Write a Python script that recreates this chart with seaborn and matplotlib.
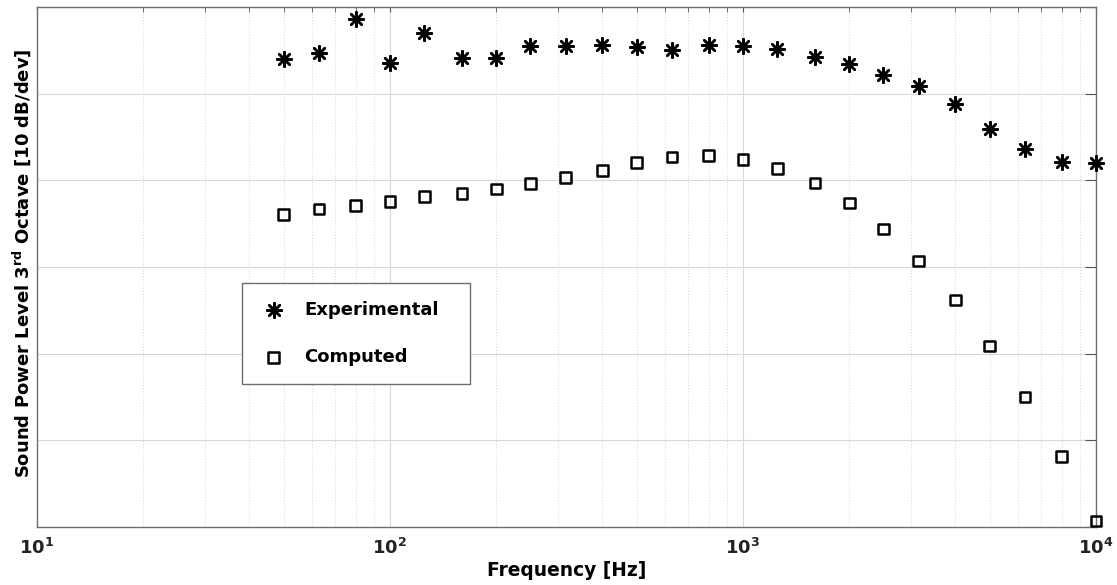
import numpy as np
import pandas as pd
import matplotlib
matplotlib.use('Agg')
import matplotlib.pyplot as plt
import matplotlib.ticker as mticker
import seaborn as sns

# Third-octave band centre frequencies [Hz]
freq = [50, 63, 80, 100, 125, 160, 200, 250, 315, 400, 500, 630, 800,
        1000, 1250, 1600, 2000, 2500, 3150, 4000, 5000, 6300, 8000, 10000]
# Sound power level [dB], relative (10 dB per division)
experimental = [54.0, 54.7, 58.6, 53.5, 57.0, 54.1, 54.1, 55.5, 55.5, 55.6, 55.4, 55.0,
                55.6, 55.5, 55.1, 54.2, 53.4, 52.1, 50.9, 48.8, 45.9, 43.6, 42.1, 42.0]
computed = [36.1, 36.7, 37.1, 37.6, 38.1, 38.5, 39.0, 39.6, 40.3, 41.1, 42.1, 42.7,
            42.9, 42.4, 41.4, 39.7, 37.4, 34.4, 30.7, 26.2, 20.9, 15.0, 8.1, 0.7]
x_ticks = [10, 100, 1000, 10000]
x_tick_labels = [r'$\mathbf{10^{1}}$', r'$\mathbf{10^{2}}$', r'$\mathbf{10^{3}}$', r'$\mathbf{10^{4}}$']
y_ticks = [0, 10, 20, 30, 40, 50, 60]

df = pd.DataFrame({'freq': freq, 'Experimental': experimental, 'Computed': computed})

sns.set_style('white')
plt.rcParams['font.family'] = ['DejaVu Sans']
plt.rcParams['text.color'] = 'black'
plt.rcParams['axes.labelcolor'] = 'black'

fig = plt.figure(figsize=(11.17, 5.85), dpi=100)
ax = fig.add_axes([0.0331, 0.0991, 0.948, 0.8889])

sns.scatterplot(data=df, x='freq', y='Experimental', marker=(8, 2, 0), s=110,
                color='black', linewidth=1.8, ax=ax, label='Experimental',
                clip_on=False, zorder=3)
sns.scatterplot(data=df, x='freq', y='Computed', marker='s', s=60,
                facecolor='none', edgecolor='black', linewidth=1.8, ax=ax,
                label='Computed', clip_on=False, zorder=3)

ax.set_xscale('log')
ax.set_xlim(10, 10000)
ax.set_ylim(0, 60)
ax.set_xticks(x_ticks)
ax.set_xticklabels(x_tick_labels)
ax.set_yticks(y_ticks)
ax.set_yticklabels([])
ax.xaxis.set_minor_locator(mticker.LogLocator(base=10, subs=np.arange(2, 10)))
ax.xaxis.set_minor_formatter(mticker.NullFormatter())

ax.grid(True, which='major', color='#d9d9d9', linewidth=0.8, linestyle='-')
ax.grid(True, which='minor', axis='x', color='#dddddd', linewidth=0.8, linestyle=':')
ax.set_axisbelow(True)

for sp in ax.spines.values():
    sp.set_color('#6e6e6e')
    sp.set_linewidth(1.0)
    sp.set_visible(True)

ax.tick_params(axis='both', which='both', direction='in', top=True, right=True,
               colors='#555555')
ax.tick_params(axis='x', which='both', length=3.5, labelsize=13, labelcolor='#222222', pad=8)
ax.tick_params(axis='y', which='major', length=8)

ax.set_xlabel('Frequency [Hz]', fontsize=13.4, fontweight='bold', labelpad=2)
ax.set_ylabel(r'Sound Power Level 3$^{\mathbf{rd}}$ Octave [10 dB/dev]', fontsize=13,
              fontweight='bold')
ax.yaxis.set_label_coords(-0.0035, 0.508)

leg = ax.legend(loc='lower left', bbox_to_anchor=(0.1936, 0.275, 0.2153, 0.198),
                mode='expand', fancybox=False, frameon=True, edgecolor='#6e6e6e',
                framealpha=1, borderpad=1.0, labelspacing=1.6, handlelength=1.5,
                handletextpad=0.95, borderaxespad=0,
                prop={'weight': 'bold', 'size': 13})
leg.get_frame().set_linewidth(1.0)

fig.savefig('out.png', dpi=100)
